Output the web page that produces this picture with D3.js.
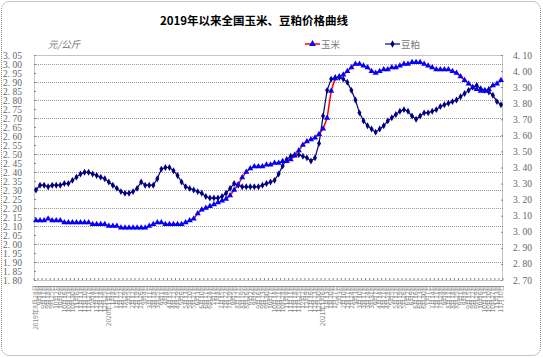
<!DOCTYPE html>
<html><head><meta charset="utf-8">
<script src="https://cdn.jsdelivr.net/npm/d3@7"></script>
<style>body{margin:0;background:#fff}svg{display:block}</style>
</head><body>
<svg id="c" width="543" height="358"></svg>
<script>
const title = "2019年以来全国玉米、豆粕价格曲线";
const unitLabel = "元/公斤";
const seriesNames = ["玉米", "豆粕"];
const startDate = "2019-08-28";
const weekCount = 116;
const corn = [
 2.13,2.13,2.13,2.14,2.13, 2.13,2.13,2.12,2.12,2.12,
 2.12,2.12,2.12,2.12,2.11, 2.11,2.11,2.11,2.10,2.10,
 2.10,2.09,2.09,2.09,2.09, 2.09,2.09,2.09,2.10,2.11,
 2.12,2.12,2.11,2.11,2.11, 2.11,2.11,2.12,2.13,2.14,
 2.17,2.19,2.20,2.21,2.22, 2.23,2.24,2.25,2.27,2.30,
 2.33,2.37,2.40,2.42,2.43, 2.43,2.43,2.44,2.44,2.45,
 2.45,2.46,2.46,2.47,2.49, 2.52,2.55,2.57,2.58,2.59,
 2.61,2.64,2.70,2.85,2.92, 2.93,2.94,2.96,2.98,3.00,
 3.00,2.99,2.98,2.96,2.95, 2.96,2.97,2.97,2.98,2.98,
 2.99,3.00,3.00,3.01,3.01, 3.01,3.00,2.99,2.98,2.97,
 2.97,2.97,2.97,2.96,2.95, 2.93,2.91,2.89,2.87,2.86,
 2.85,2.85,2.86,2.88,2.89,2.91];
const soymeal = [
 3.26,3.29,3.29,3.28,3.29, 3.29,3.29,3.30,3.30,3.32,
 3.34,3.36,3.37,3.37,3.36, 3.35,3.34,3.33,3.31,3.29,
 3.27,3.25,3.24,3.24,3.25, 3.27,3.31,3.29,3.29,3.29,
 3.33,3.39,3.40,3.40,3.38, 3.35,3.31,3.28,3.27,3.26,
 3.25,3.24,3.22,3.21,3.21, 3.21,3.22,3.24,3.27,3.30,
 3.29,3.28,3.28,3.28,3.28, 3.28,3.29,3.30,3.31,3.32,
 3.36,3.41,3.45,3.47,3.48, 3.48,3.47,3.46,3.44,3.46,
 3.55,3.72,3.88,3.95,3.96, 3.96,3.95,3.93,3.88,3.82,
 3.74,3.69,3.66,3.64,3.62, 3.64,3.66,3.69,3.71,3.73,
 3.75,3.76,3.75,3.72,3.70, 3.72,3.74,3.74,3.75,3.76,
 3.78,3.79,3.80,3.81,3.82, 3.84,3.86,3.88,3.90,3.91,
 3.89,3.88,3.87,3.85,3.81,3.79];
const leftTicks = d3.range(0, 26).map(i => +(1.80 + i * 0.05).toFixed(2));
const rightTicks = d3.range(0, 15).map(i => +(2.70 + i * 0.10).toFixed(2));

// dates / labels
const d0 = new Date(startDate + "T00:00:00");
const dates = d3.range(weekCount).map(i => new Date(d0.getTime() + i * 7 * 86400000));
const labels = dates.map((d, i) => {
  const md = (d.getMonth() + 1) + "月" + d.getDate() + "日";
  const newYear = i === 0 || d.getFullYear() !== dates[i - 1].getFullYear();
  return newYear ? d.getFullYear() + "年" + md : md;
});

const svg = d3.select("#c");
const L = 34, R = 503, T = 55, B = 280;
const x = d3.scaleBand().domain(d3.range(weekCount)).range([L, R]);
const yL = d3.scaleLinear().domain([1.80, 3.05]).range([B, T]);
const yR = d3.scaleLinear().domain([2.70, 4.10]).range([B, T]);
const cx = i => x(i) + x.bandwidth() / 2;

// outer border
svg.append("rect").attr("x", 1.5).attr("y", 1.5).attr("width", 539).attr("height", 354)
  .attr("rx", 8).attr("fill", "#fff").attr("stroke", "#888").attr("stroke-dasharray", "1,1");

svg.append("text").attr("x", 254).attr("y", 25).attr("text-anchor", "middle")
  .attr("font-family", "Noto Sans CJK SC").attr("font-weight", "bold").attr("font-size", 11.5)
  .attr("fill", "#000").text(title);

svg.append("text").attr("x", 48).attr("y", 48).attr("font-family", "Noto Sans CJK SC")
  .attr("font-size", 9.5).attr("fill", "#777").attr("font-style", "italic").text(unitLabel);

// gridlines every 0.10 on left axis
const grid = d3.range(0, 12).map(i => +(1.90 + i * 0.10).toFixed(2));
svg.append("g").selectAll("line").data(grid).join("line")
  .attr("x1", L).attr("x2", R).attr("y1", d => Math.round(yL(d)) + 0.5).attr("y2", d => Math.round(yL(d)) + 0.5)
  .attr("stroke", "#999").attr("stroke-dasharray", "1,1");

// plot border
svg.append("rect").attr("x", L + 0.5).attr("y", T + 0.5).attr("width", R - L - 1).attr("height", B - T)
  .attr("fill", "none").attr("stroke", "#888").attr("stroke-dasharray", "1,1");

// axes
const fontNum = "Liberation Serif";
const axL = svg.append("g").attr("transform", `translate(${L},0)`)
  .call(d3.axisLeft(yL).tickValues(leftTicks).tickFormat(d => d.toFixed(2).replace(".", ". ")).tickSize(2).tickPadding(10));
const axR = svg.append("g").attr("transform", `translate(${R},0)`)
  .call(d3.axisRight(yR).tickValues(rightTicks).tickFormat(d => d.toFixed(2).replace(".", ". ")).tickSize(2).tickPadding(8));
[axL, axR].forEach(a => {
  a.select(".domain").remove();
  a.selectAll("line").attr("stroke", "#888");
  a.selectAll("text").attr("font-family", fontNum).attr("font-size", 9.5).attr("fill", "#666");
});
axL.selectAll("line").attr("x2", 2);
axR.selectAll("line").attr("x2", -2);

// x axis
const axB = svg.append("g").attr("transform", `translate(0,${B})`)
  .call(d3.axisBottom(x).tickFormat((d) => labels[d]).tickSize(0).tickPadding(0));
axB.select(".domain").remove();
axB.selectAll(".tick text").attr("font-family", "Noto Sans CJK SC").attr("font-size", 6.5).attr("fill", "#888")
  .attr("text-anchor", "end").attr("x", 0).attr("y", 0).attr("dx", "-5").attr("dy", "0.35em")
  .attr("transform", "rotate(-90)");
svg.append("g").selectAll("line").data(d3.range(weekCount + 1)).join("line")
  .attr("x1", i => i < weekCount ? x(i) : R).attr("x2", i => i < weekCount ? x(i) : R)
  .attr("y1", B).attr("y2", B - 2).attr("stroke", "#888");

// series
const lineC = d3.line().x((d, i) => cx(i)).y(d => yL(d));
const lineS = d3.line().x((d, i) => cx(i)).y(d => yR(d));
svg.append("path").attr("d", lineS(soymeal)).attr("fill", "none").attr("stroke", "#000080").attr("stroke-width", 1.2);
svg.append("g").selectAll("path").data(soymeal).join("path")
  .attr("d", d3.symbol(d3.symbolDiamond, 14)())
  .attr("transform", (d, i) => `translate(${cx(i)},${yR(d)})`).attr("fill", "#000080");
svg.append("path").attr("d", lineC(corn)).attr("fill", "none").attr("stroke", "#ff0000").attr("stroke-width", 1.5);
svg.append("g").selectAll("path").data(corn).join("path")
  .attr("d", d3.symbol(d3.symbolTriangle, 16)())
  .attr("transform", (d, i) => `translate(${cx(i)},${yL(d)})`).attr("fill", "#0000ff");

// legend
const lg = svg.append("g");
lg.append("line").attr("x1", 305).attr("x2", 320).attr("y1", 44).attr("y2", 44).attr("stroke", "#ff0000").attr("stroke-width", 1.5);
lg.append("path").attr("d", d3.symbol(d3.symbolTriangle, 20)()).attr("transform", "translate(312.5,44)").attr("fill", "#0000ff");
lg.append("text").attr("x", 321).attr("y", 47.5).attr("font-family", "Noto Sans CJK SC").attr("font-size", 9.5).attr("fill", "#777").text(seriesNames[0]);
lg.append("line").attr("x1", 385).attr("x2", 400).attr("y1", 44).attr("y2", 44).attr("stroke", "#000080").attr("stroke-width", 1.2);
lg.append("path").attr("d", d3.symbol(d3.symbolDiamond, 16)()).attr("transform", "translate(392.5,44)").attr("fill", "#000080");
lg.append("text").attr("x", 401).attr("y", 47.5).attr("font-family", "Noto Sans CJK SC").attr("font-size", 9.5).attr("fill", "#777").text(seriesNames[1]);
</script>
</body></html>
